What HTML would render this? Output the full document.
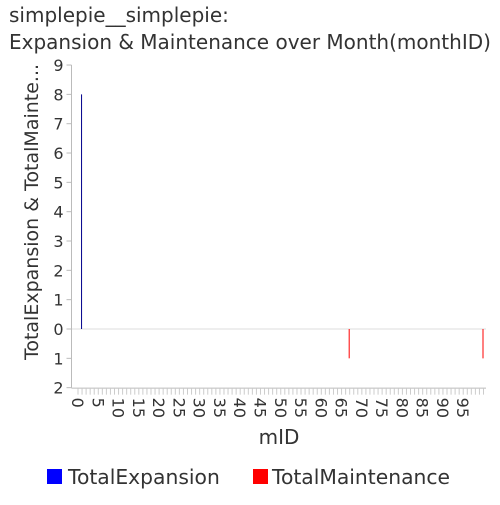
<!DOCTYPE html>
<html><head><meta charset="utf-8"><style>
body{margin:0;background:#fff;}
svg text{font-family:"DejaVu Sans","Liberation Sans",sans-serif;fill:#333;}
</style></head><body>
<svg id="c" width="500" height="500" xmlns="http://www.w3.org/2000/svg">
<text x="9" y="22" font-size="20">simplepie__simplepie:</text>
<text x="9" y="49" font-size="20">Expansion &amp; Maintenance over Month(monthID)</text>
<text transform="translate(38,212) rotate(-90)" text-anchor="middle" font-size="19">TotalExpansion &amp; TotalMainte...</text>
<text x="279" y="444" text-anchor="middle" font-size="20">mID</text>
<g id="axes"></g>
<g id="marks"></g>
<rect x="47" y="469" width="15" height="15" fill="#0000ff"/>
<text x="68" y="484" font-size="20.3">TotalExpansion</text>
<rect x="253" y="469" width="15" height="15" fill="#ff0000"/>
<text x="272" y="484" font-size="20.3">TotalMaintenance</text>
</svg>
<script>
const expansionIDs=[1];
const expansionValues=[8];
const maintenanceIDs=[67,100];
const maintenanceValues=[1,1];
const yTicks=[9,8,7,6,5,4,3,2,1,0,-1,-2];
const xCount=101;
const NS="http://www.w3.org/2000/svg";
const y0=329, unit=29.33, xL=71.5, xR=486;
function y(v){return y0-v*unit;}
function x(i){return 78+4.055*i;}
function mk(t,a,p){const e=document.createElementNS(NS,t);for(const k in a)e.setAttribute(k,a[k]);p.appendChild(e);return e;}
const ax=document.getElementById('axes'), mg=document.getElementById('marks');
const g=mk('line',{x1:xL,x2:xR,y1:y(0),y2:y(0),stroke:'#ddd'},ax);


const ya=mk('line',{x1:xL,x2:xL,y1:y(9),y2:y(-2),stroke:'#bbb'},ax);


const xa=mk('line',{x1:xL,x2:xR,y1:y(-2)+0.5,y2:y(-2)+0.5,stroke:'#bbb'},ax);


yTicks.forEach(v=>{
 const tk=mk('line',{x1:xL-5,x2:xL,y1:y(v),y2:y(v),stroke:'#bbb'},ax);
 
 
 const t=mk('text',{x:xL-8,y:y(v)+6,'text-anchor':'end','font-size':16},ax);
 t.textContent=Math.abs(v);
 
 
});
for(let i=0;i<xCount;i++){
 const tk=mk('line',{x1:x(i),x2:x(i),y1:y(-2)+1,y2:y(-2)+7,stroke:'#ccc'},ax);
 
 
 if(i%5===0&&i<100){
  const t=mk('text',{transform:`translate(${x(i)-6},${y(-2)+10}) rotate(90)`,'font-size':16},ax);
  t.textContent=i;
  
  
 }
}
expansionIDs.forEach((id,k)=>{
 const b=mk('line',{x1:x(id)-0.5,x2:x(id)-0.5,y1:y(0),y2:y(expansionValues[k]),stroke:'#00008b','stroke-width':1},mg);
 
 
});
maintenanceIDs.forEach((id,k)=>{
 const b=mk('line',{x1:x(id)-0.5,x2:x(id)-0.5,y1:y(0),y2:y(-maintenanceValues[k]),stroke:'#ff0000','stroke-width':1},mg);
 
 
});
</script>
</body></html>
